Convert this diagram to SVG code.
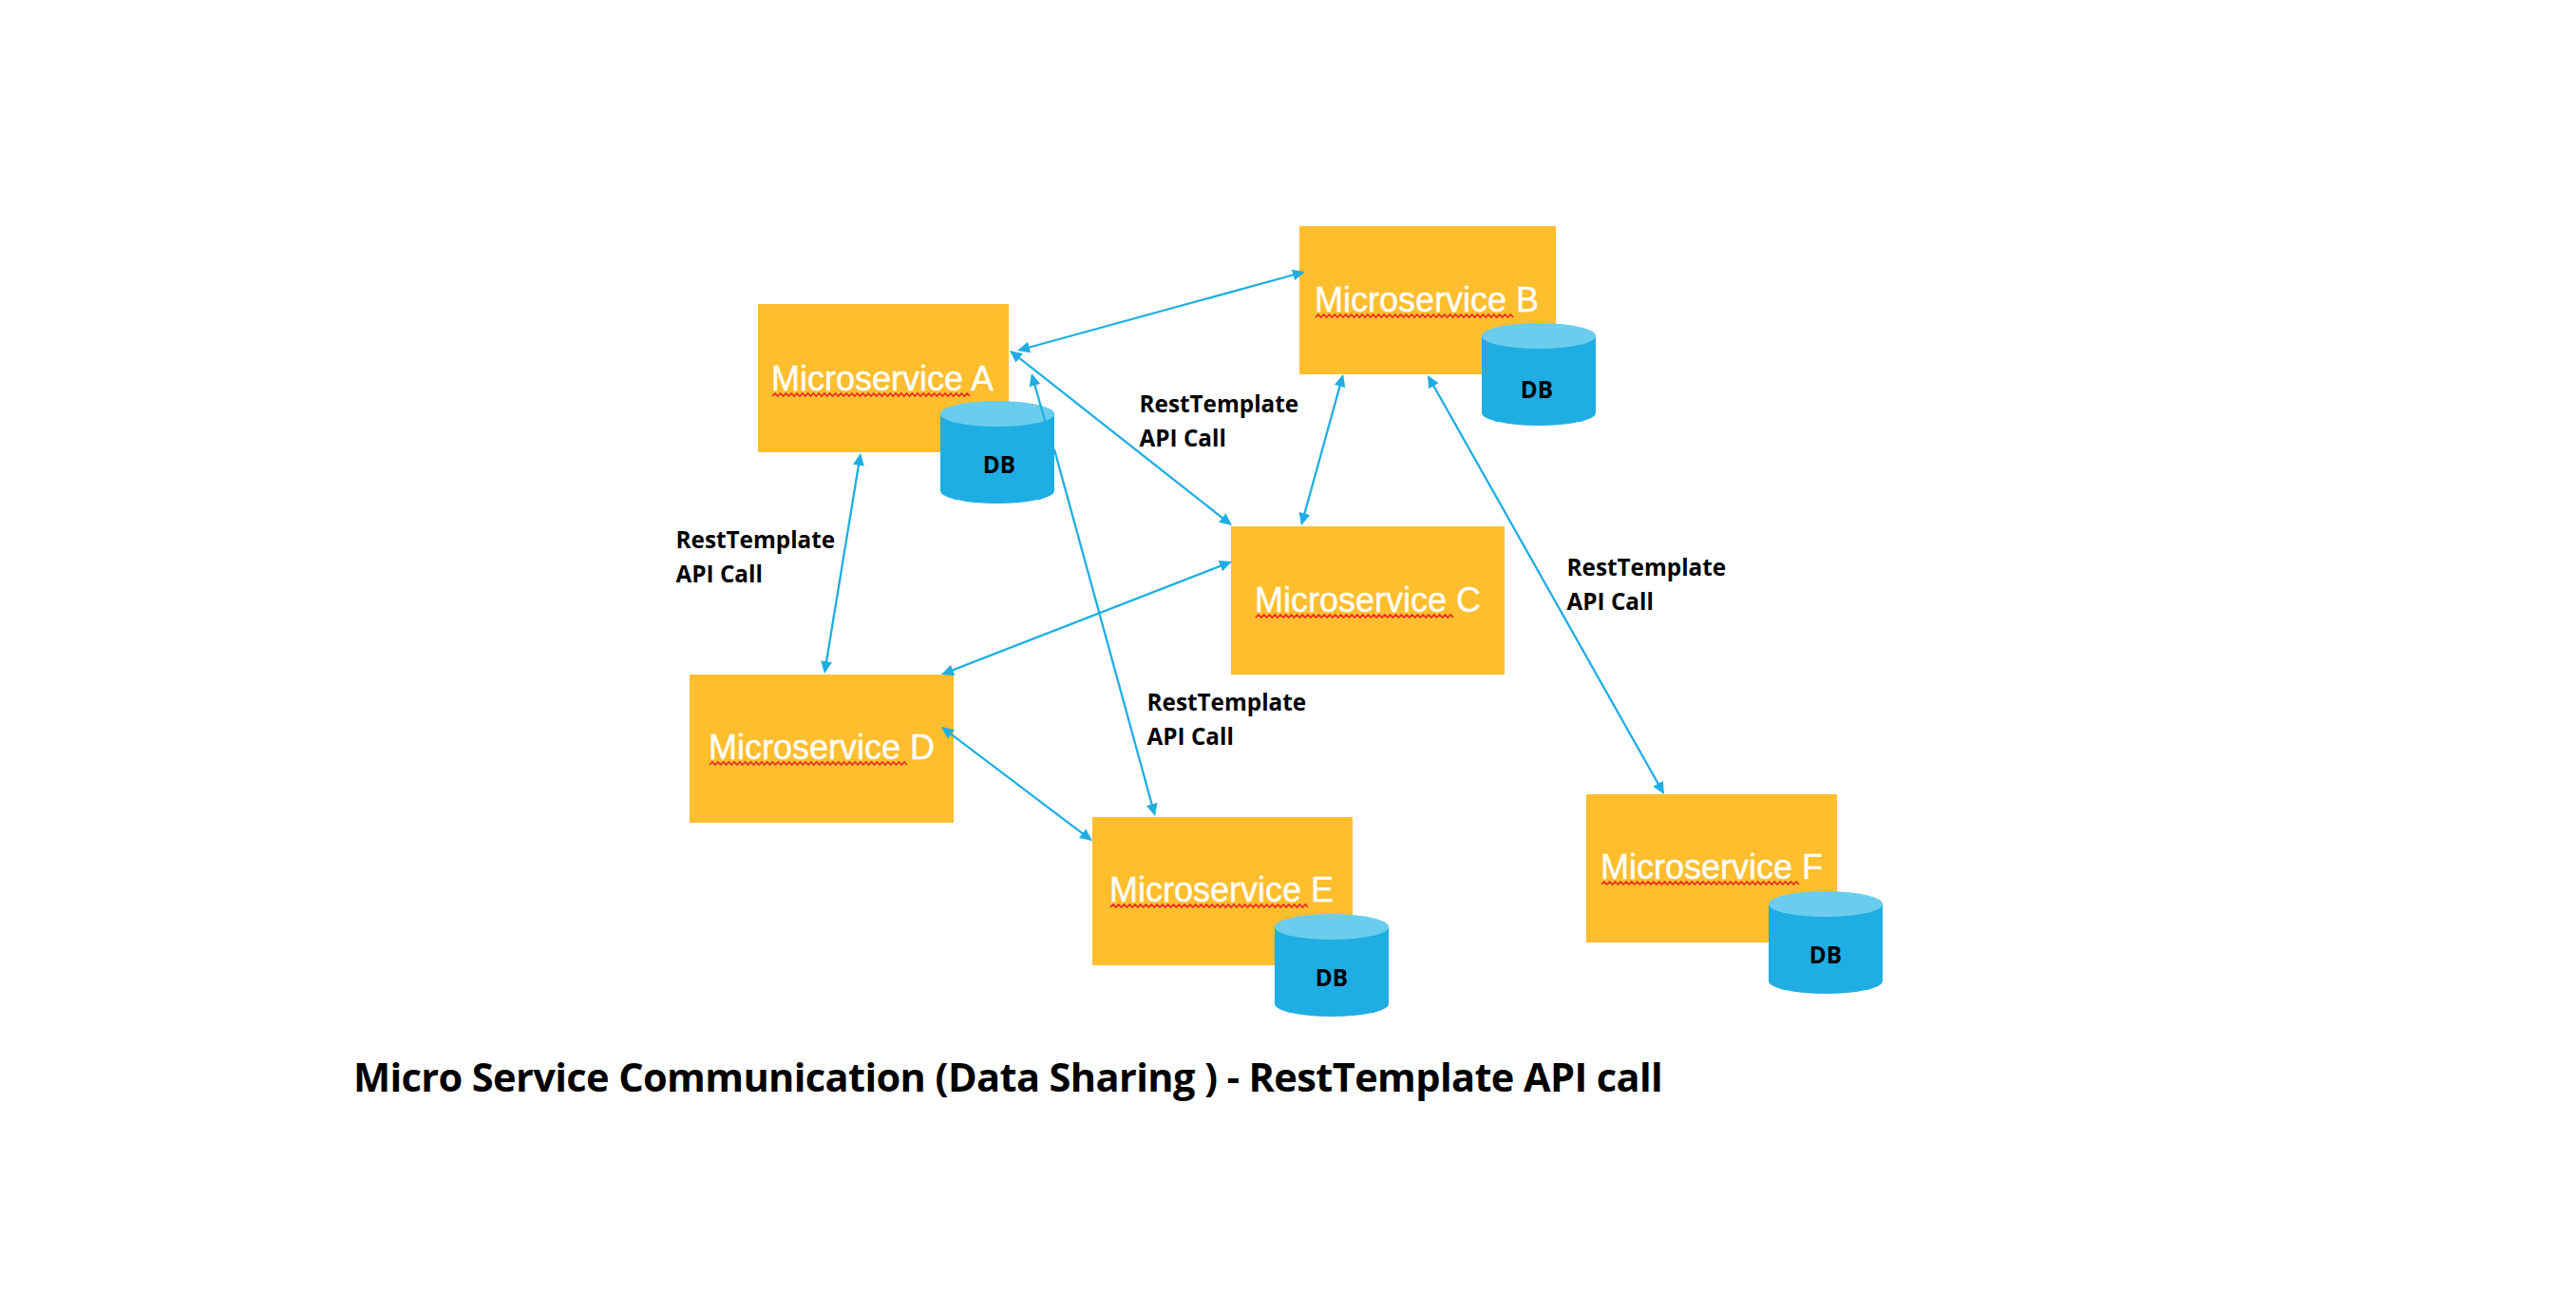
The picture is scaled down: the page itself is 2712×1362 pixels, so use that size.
<svg xmlns="http://www.w3.org/2000/svg" xmlns:xlink="http://www.w3.org/1999/xlink" width="2712" height="1362" viewBox="0 0 2712 1362">
<style>
.box{fill:#FEBE2E}
.name{font-family:"Liberation Sans",Arial,sans-serif;font-size:36px;fill:#fff;stroke:#fff;stroke-width:.4}
.lbl{font-family:"Open Sans","Noto Sans",sans-serif;font-weight:700;font-size:24.3px;fill:#000}
.db{text-anchor:middle}
.title{font-family:"Open Sans","Noto Sans",sans-serif;font-weight:700;font-size:41.5px;letter-spacing:-.6px;fill:#000}
.link{fill:none;stroke:#1FAEE3;stroke-width:2.3}
.both{marker-start:url(#head);marker-end:url(#head)}
.squig{fill:none;stroke:#EE2A24;stroke-width:1.7}
</style>
<defs>
<marker id="head" markerUnits="userSpaceOnUse" markerWidth="14" markerHeight="13" refX="11" refY="6.5" orient="auto-start-reverse" viewBox="0 0 14 13"><path d="M0 0.5L13 6.5 0 12.5z" fill="#1FAEE3"/></marker>
<path id="squiggle" class="squig" d="M0 4l2.89-3 2.89 3 2.89-3 2.89 3 2.89-3 2.89 3 2.89-3 2.89 3 2.89-3 2.89 3 2.89-3 2.89 3 2.89-3 2.89 3 2.89-3 2.89 3 2.89-3 2.89 3 2.89-3 2.89 3 2.89-3 2.89 3 2.89-3 2.89 3 2.89-3 2.89 3 2.89-3 2.89 3 2.89-3 2.89 3 2.89-3 2.89 3 2.89-3 2.89 3 2.89-3 2.89 3 2.89-3 2.89 3 2.89-3 2.89 3 2.89-3 2.89 3 2.89-3 2.89 3 2.89-3 2.89 3 2.89-3 2.89 3 2.89-3 2.89 3 2.89-3 2.89 3 2.89-3 2.89 3 2.89-3 2.89 3 2.89-3 2.89 3 2.89-3 2.89 3 2.89-3 2.89 3 2.89-3 2.89 3 2.89-3 2.89 3 2.89-3 2.89 3 2.89-3 2.89 3 2.89-3 2.89 3"/>
<g id="cyl"><path d="M0 13.5v81a60 13.5 0 0 0 120 0v-81z" fill="#1FAEE3"/><ellipse cx="60" cy="13.5" rx="60" ry="13.5" fill="#6BCDED"/></g>
</defs>
<rect width="2712" height="1362" fill="#fff"/>
<g id="node-a">
<rect class="box" x="798" y="320" width="264" height="156"/>
<text class="name" x="812" y="411">Microservice A</text>
<use href="#squiggle" x="813" y="413"/>
<use href="#cyl" x="990" y="422"/>
<text class="lbl db" x="1052" y="498">DB</text>
</g>
<g id="node-b">
<rect class="box" x="1368" y="238" width="270" height="156"/>
<text class="name" x="1384" y="328">Microservice B</text>
<use href="#squiggle" x="1385" y="330"/>
<use href="#cyl" x="1560" y="340"/>
<text class="lbl db" x="1618" y="419">DB</text>
</g>
<g id="node-c">
<rect class="box" x="1296" y="554" width="288" height="156"/>
<text class="name" x="1321" y="644">Microservice C</text>
<use href="#squiggle" x="1322" y="646"/>
</g>
<g id="node-d">
<rect class="box" x="726" y="710" width="278" height="156"/>
<text class="name" x="746" y="799">Microservice D</text>
<use href="#squiggle" x="747" y="801"/>
</g>
<g id="node-e">
<rect class="box" x="1150" y="860" width="274" height="156"/>
<text class="name" x="1168" y="949">Microservice E</text>
<use href="#squiggle" x="1169" y="951"/>
<use href="#cyl" x="1342" y="962"/>
<text class="lbl db" x="1402" y="1038">DB</text>
</g>
<g id="node-f">
<rect class="box" x="1670" y="836" width="264" height="156"/>
<text class="name" x="1685" y="925">Microservice F</text>
<use href="#squiggle" x="1686" y="927"/>
<use href="#cyl" x="1862" y="938"/>
<text class="lbl db" x="1922" y="1014">DB</text>
</g>
<g id="connectors">
<path class="link both" d="M1073 368.5L1372 286.5"/>
<path class="link both" d="M1064.6 370.2L1295.4 551.8"/>
<path class="link both" d="M1413.5 395.9L1370.5 551.1"/>
<path class="link both" d="M905.7 479L868.3 707"/>
<path class="link both" d="M1295.1 591.7L992.9 709.3"/>
<path class="link both" d="M992.6 766.2L1148.4 883.8"/>
<path class="link both" d="M1504 396.7L1751 834.3"/>
<path class="link" marker-start="url(#head)" d="M1086.5 395L1101 446"/>
<path class="link" marker-end="url(#head)" d="M1110 473L1215.5 857"/>
</g>
<g id="labels">
<text class="lbl" x="711.5" y="577">RestTemplate</text>
<text class="lbl" x="711.5" y="613">API Call</text>
<text class="lbl" x="1199.5" y="434">RestTemplate</text>
<text class="lbl" x="1199.5" y="470">API Call</text>
<text class="lbl" x="1207.5" y="748">RestTemplate</text>
<text class="lbl" x="1207.5" y="784">API Call</text>
<text class="lbl" x="1649.5" y="606">RestTemplate</text>
<text class="lbl" x="1649.5" y="642">API Call</text>
<text class="title" x="372" y="1149">Micro Service Communication (Data Sharing ) - RestTemplate API call</text>
</g>
</svg>
